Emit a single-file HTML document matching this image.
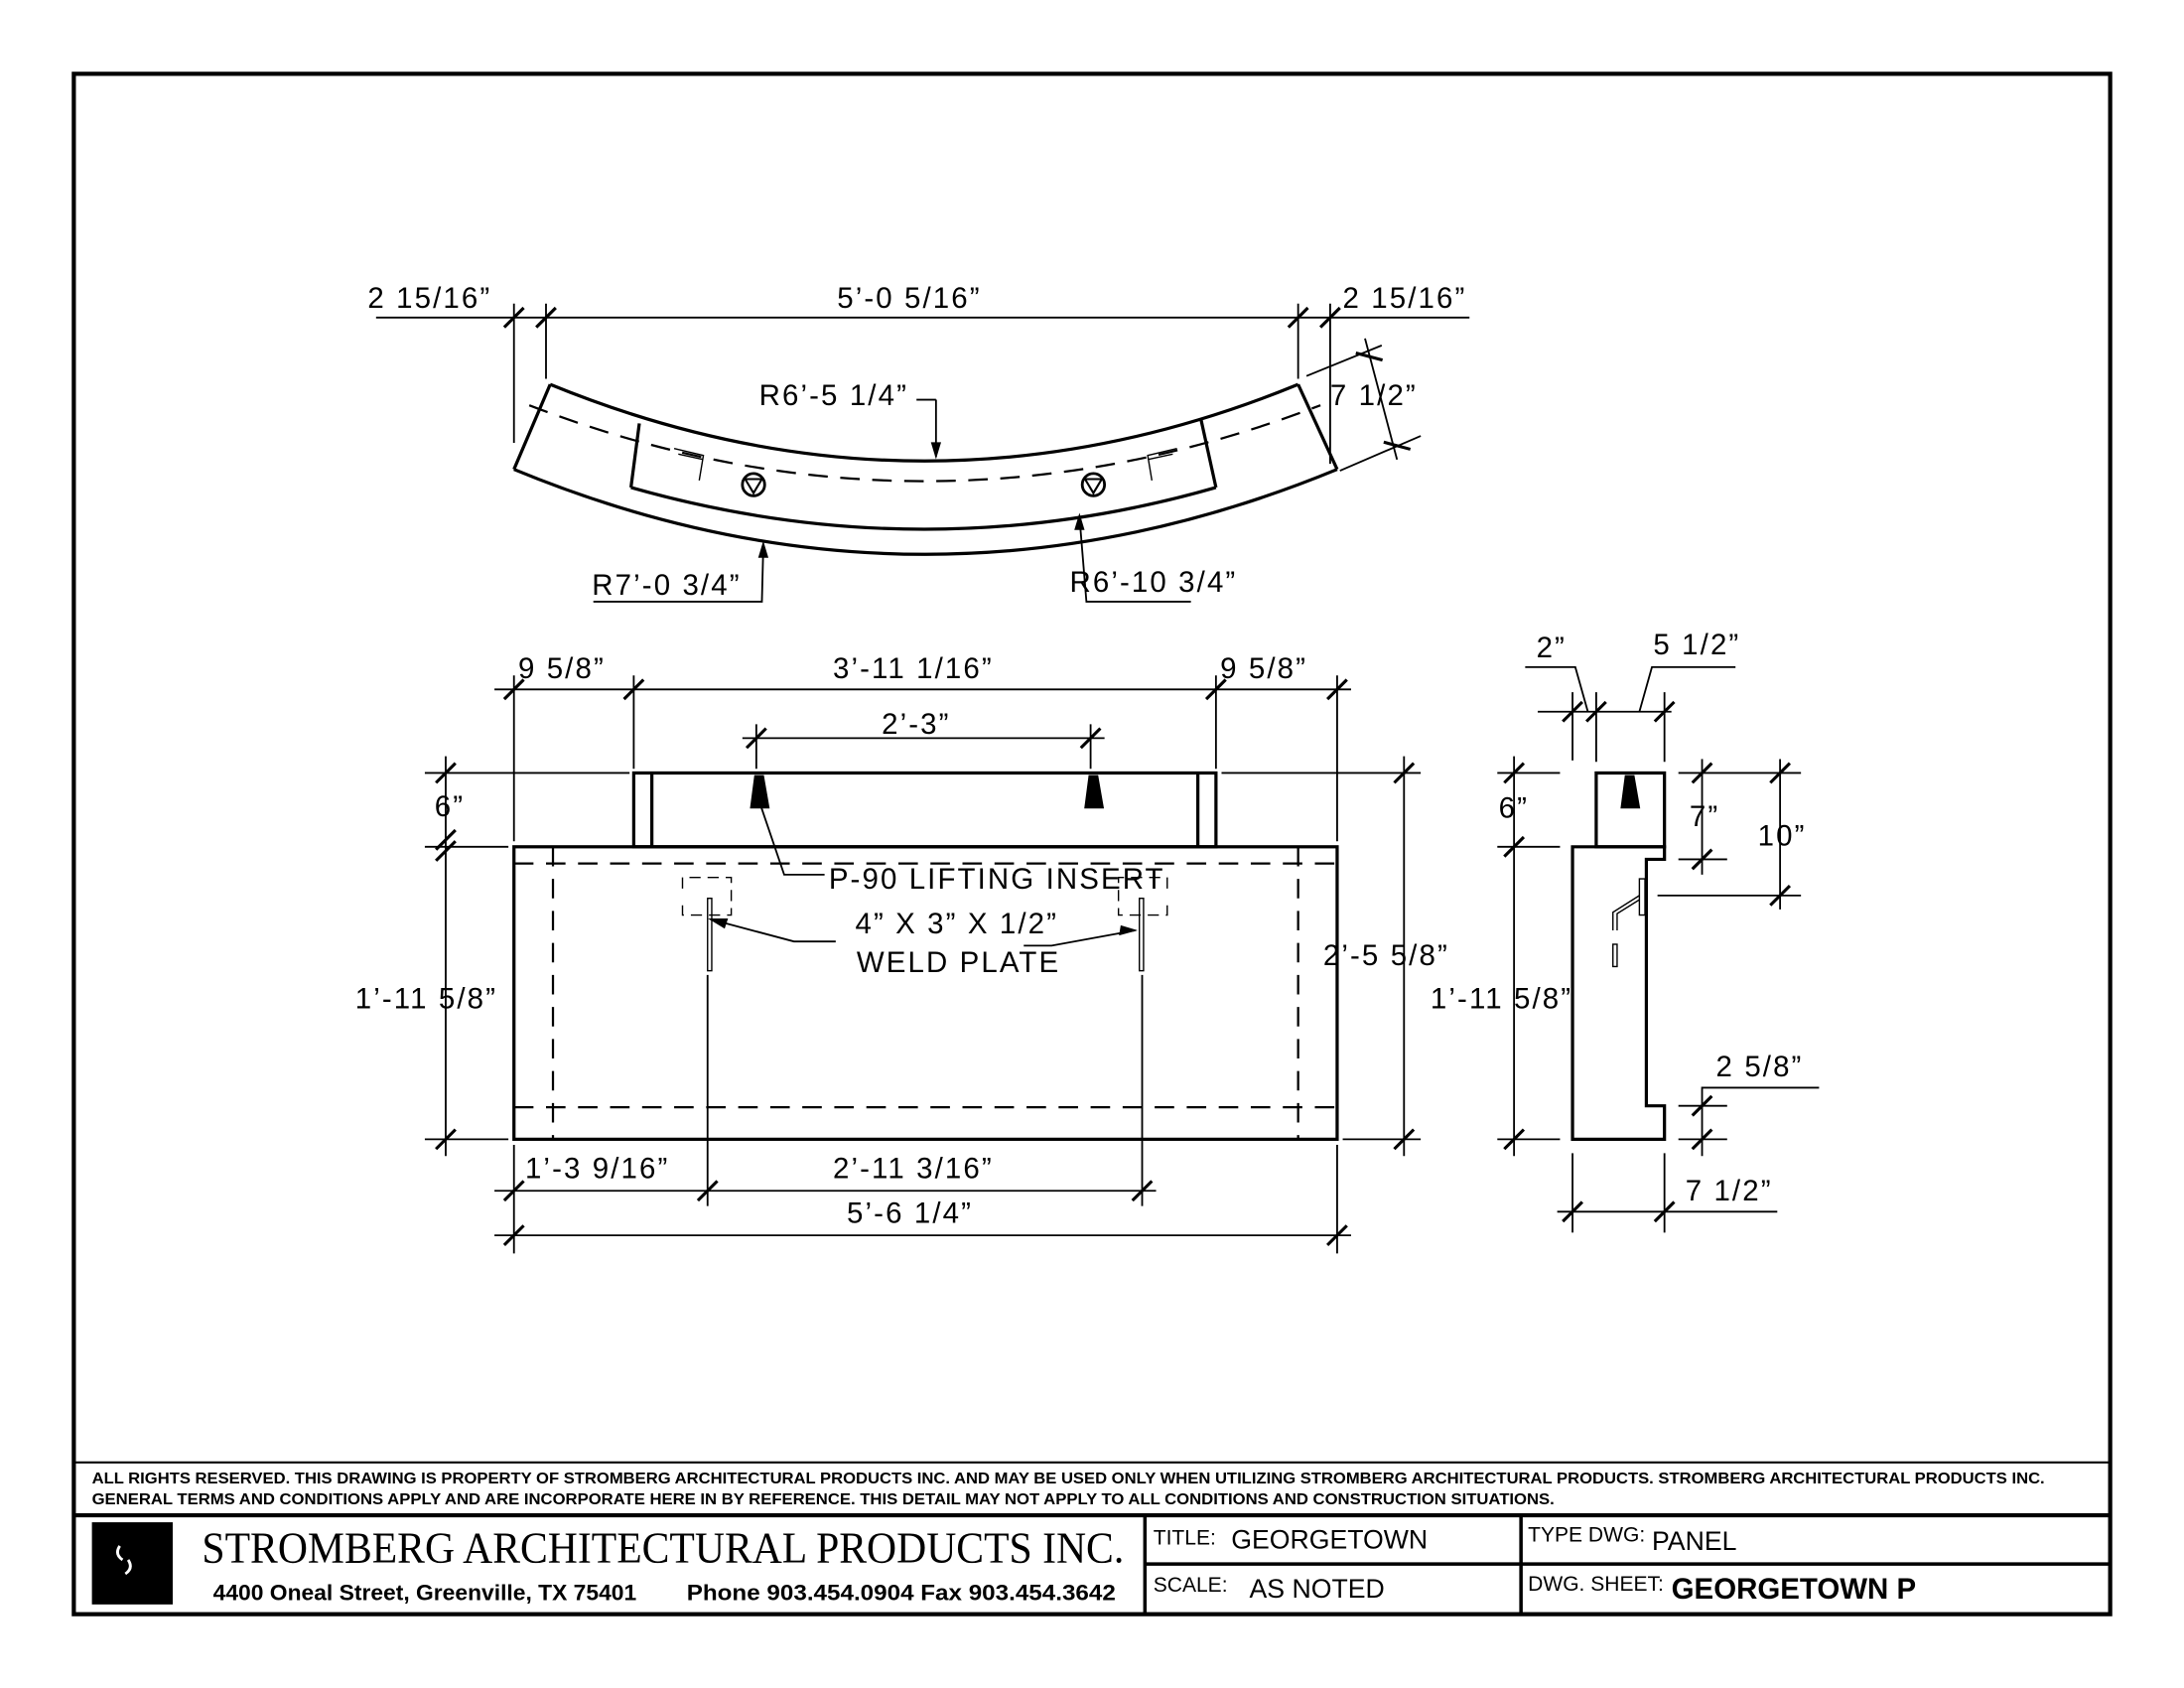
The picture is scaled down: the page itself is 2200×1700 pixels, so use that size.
<!DOCTYPE html>
<html><head><meta charset="utf-8"><style>
html,body{margin:0;padding:0;background:#fff}
svg{display:block}
text{font-family:"Liberation Sans",sans-serif;fill:#000}
.d{font-size:21px;letter-spacing:1.5px}
</style></head><body>
<svg width="2200" height="1700" viewBox="0 0 1568 1212" preserveAspectRatio="none" xmlns="http://www.w3.org/2000/svg">
<defs>
<path id="t" d="M-7,7 L7,-7" stroke="#000" stroke-width="2.2"/>
</defs>
<g fill="none" stroke="#000">
<rect x="53" y="53" width="1462" height="1106" stroke-width="3"/>
<line x1="53" y1="1050" x2="1515" y2="1050" stroke-width="1.5"/>
<line x1="53" y1="1088" x2="1515" y2="1088" stroke-width="3"/>
<line x1="822" y1="1088" x2="822" y2="1159" stroke-width="2.5"/>
<line x1="1092" y1="1088" x2="1092" y2="1159" stroke-width="2.5"/>
<line x1="822" y1="1123" x2="1515" y2="1123" stroke-width="2.5"/>

<g stroke-width="2.3">
<path d="M369,337 Q664,459 960,337"/>
<path d="M395,276 Q664,386 932,276"/>
<line x1="369" y1="337" x2="395" y2="276"/>
<line x1="960" y1="337" x2="932" y2="276"/>
<path d="M453,350 Q664,410 873,350"/>
<line x1="453" y1="350" x2="459" y2="304"/>
<line x1="873" y1="350" x2="862" y2="300"/>
</g>
<path d="M380,291 Q664,400 948,291" stroke-width="1.6" stroke-dasharray="14,9"/>
<circle cx="541" cy="348" r="8" stroke-width="2"/><path d="M535,344 L541,354 L547,344 Z" stroke-width="1.5"/>
<circle cx="785" cy="348" r="8" stroke-width="2"/><path d="M779,344 L785,354 L791,344 Z" stroke-width="1.5"/>
<path d="M484,322 L505,327 L502,345 M487,326 L505,330" stroke-width="1"/>
<path d="M845,322 L824,327 L827,345 M842,326 L824,330" stroke-width="1"/>
<g stroke-width="1.3">
<line x1="270" y1="228" x2="1055" y2="228"/>
<line x1="369" y1="218" x2="369" y2="318"/>
<line x1="392" y1="218" x2="392" y2="272"/>
<line x1="932" y1="218" x2="932" y2="272"/>
<line x1="955" y1="218" x2="955" y2="333"/>
<line x1="938" y1="270" x2="992" y2="248"/>
<line x1="962" y1="338" x2="1020" y2="313"/>
<line x1="980" y1="243" x2="1003" y2="330"/>
<path d="M672,287 L672,328 M658,287 L672,287"/>
<path d="M548,393 L547,432 L426,432" />
<path d="M775,371 L780,432 L855,432" />
</g>
<path d="M669,318 L672,328 L675,318Z" fill="#000" stroke-width="1"/>
<path d="M545,400 L548,390 L551,400Z" fill="#000" stroke-width="1"/>
<path d="M772,380 L775,370 L778,380Z" fill="#000" stroke-width="1"/>
<use href="#t" x="369" y="228"/><use href="#t" x="392" y="228"/><use href="#t" x="932" y="228"/><use href="#t" x="955" y="228"/>
<use href="#t" x="983" y="256" transform="rotate(60 983 256)"/><use href="#t" x="1003" y="320" transform="rotate(60 1003 320)"/>

<g stroke-width="2.3">
<rect x="369" y="608" width="591" height="210"/>
<rect x="455" y="555" width="418" height="53"/>
<line x1="468" y1="555" x2="468" y2="608"/>
<line x1="860" y1="555" x2="860" y2="608"/>
</g>
<g stroke-width="1.6" stroke-dasharray="14,9">
<line x1="369" y1="620" x2="960" y2="620"/>
<line x1="369" y1="795" x2="960" y2="795"/>
<line x1="397" y1="608" x2="397" y2="818"/>
<line x1="932" y1="608" x2="932" y2="818"/>
</g>
<path d="M539,580 L552,580 L548,557 L542,557Z" fill="#000" stroke-width="1"/>
<path d="M779,580 L792,580 L788,557 L782,557Z" fill="#000" stroke-width="1"/>
<g stroke-width="1">
<path d="M490,638 L490,630 L525,630 L525,657 L490,657 L490,645" stroke-dasharray="8,5"/>
<rect x="508" y="645" width="3" height="52"/>
<path d="M838,638 L838,630 L803,630 L803,657 L838,657 L838,645" stroke-dasharray="8,5"/>
<rect x="818" y="645" width="3" height="52"/>
</g>
<g stroke-width="1.3">
<line x1="355" y1="495" x2="970" y2="495"/>
<line x1="369" y1="485" x2="369" y2="604"/>
<line x1="455" y1="485" x2="455" y2="552"/>
<line x1="873" y1="485" x2="873" y2="552"/>
<line x1="960" y1="485" x2="960" y2="604"/>
<line x1="533" y1="530" x2="793" y2="530"/>
<line x1="543" y1="520" x2="543" y2="552"/>
<line x1="783" y1="520" x2="783" y2="552"/>
<line x1="320" y1="543" x2="320" y2="830"/>
<line x1="305" y1="555" x2="452" y2="555"/>
<line x1="305" y1="608" x2="365" y2="608"/>
<line x1="305" y1="818" x2="365" y2="818"/>
<line x1="1008" y1="543" x2="1008" y2="830"/>
<line x1="877" y1="555" x2="1020" y2="555"/>
<line x1="964" y1="818" x2="1020" y2="818"/>
<line x1="355" y1="855" x2="830" y2="855"/>
<line x1="355" y1="887" x2="970" y2="887"/>
<line x1="369" y1="822" x2="369" y2="900"/>
<line x1="960" y1="822" x2="960" y2="900"/>
<line x1="508" y1="700" x2="508" y2="866"/>
<line x1="820" y1="700" x2="820" y2="866"/>
<path d="M546,578 L563,628 L592,628"/>
<path d="M510,660 L570,676 L600,676"/>
<path d="M815,668 L755,679 L735,679"/>
</g>
<path d="M510,660 L522,660 L520,666Z" fill="#000" stroke-width="1"/>
<path d="M815,668 L805,665 L804,671Z" fill="#000" stroke-width="1"/>
<use href="#t" x="369" y="495"/><use href="#t" x="455" y="495"/><use href="#t" x="873" y="495"/><use href="#t" x="960" y="495"/>
<use href="#t" x="543" y="530"/><use href="#t" x="783" y="530"/>
<use href="#t" x="320" y="555"/><use href="#t" x="320" y="603"/><use href="#t" x="320" y="611"/><use href="#t" x="320" y="818"/>
<use href="#t" x="1008" y="555"/><use href="#t" x="1008" y="818"/>
<use href="#t" x="369" y="855"/><use href="#t" x="508" y="855"/><use href="#t" x="820" y="855"/>
<use href="#t" x="369" y="887"/><use href="#t" x="960" y="887"/>

<path d="M1129,608 L1195,608 L1195,617 L1182,617 L1182,794 L1195,794 L1195,818 L1129,818 Z" stroke-width="2.3"/>
<rect x="1146" y="555" width="49" height="53" stroke-width="2.3"/>
<path d="M1164,580 L1177,580 L1173,557 L1167,557Z" fill="#000" stroke-width="1"/>
<g stroke-width="1">
<rect x="1177" y="631" width="4" height="26"/>
<path d="M1177,643 L1158,655 L1158,668 M1177,646 L1161,656 L1161,668"/>
<rect x="1158" y="678" width="3" height="16"/>
</g>
<g stroke-width="1.3">
<line x1="1104" y1="511" x2="1200" y2="511"/>
<line x1="1129" y1="497" x2="1129" y2="546"/>
<line x1="1146" y1="497" x2="1146" y2="547"/>
<line x1="1195" y1="497" x2="1195" y2="547"/>
<path d="M1095,479 L1131,479 L1140,511"/>
<path d="M1177,511 L1186,479 L1246,479"/>
<line x1="1087" y1="543" x2="1087" y2="830"/>
<line x1="1075" y1="555" x2="1120" y2="555"/>
<line x1="1075" y1="608" x2="1120" y2="608"/>
<line x1="1075" y1="818" x2="1120" y2="818"/>
<line x1="1222" y1="545" x2="1222" y2="628"/>
<line x1="1205" y1="555" x2="1293" y2="555"/>
<line x1="1205" y1="617" x2="1240" y2="617"/>
<line x1="1278" y1="545" x2="1278" y2="653"/>
<line x1="1190" y1="643" x2="1293" y2="643"/>
<path d="M1222,830 L1222,781 L1306,781"/>
<line x1="1205" y1="794" x2="1240" y2="794"/>
<line x1="1205" y1="818" x2="1240" y2="818"/>
<line x1="1118" y1="870" x2="1276" y2="870"/>
<line x1="1129" y1="828" x2="1129" y2="885"/>
<line x1="1195" y1="828" x2="1195" y2="885"/>
</g>
<use href="#t" x="1129" y="511"/><use href="#t" x="1146" y="511"/><use href="#t" x="1195" y="511"/>
<use href="#t" x="1087" y="555"/><use href="#t" x="1087" y="608"/><use href="#t" x="1087" y="818"/>
<use href="#t" x="1222" y="555"/><use href="#t" x="1222" y="617"/>
<use href="#t" x="1278" y="555"/><use href="#t" x="1278" y="643"/>
<use href="#t" x="1222" y="794"/><use href="#t" x="1222" y="818"/>
<use href="#t" x="1129" y="870"/><use href="#t" x="1195" y="870"/>
</g>
<rect x="66" y="1093" width="58" height="59" fill="#000"/>
<path d="M86,1110 q-4,6 2,10 M92,1120 q4,6 -2,10" stroke="#fff" stroke-width="2" fill="none"/>

<g class="d">
<text x="264" y="221">2 15/16”</text>
<text x="601" y="221">5’-0 5/16”</text>
<text x="964" y="221">2 15/16”</text>
<text x="545" y="291">R6’-5 1/4”</text>
<text x="955" y="291">7 1/2”</text>
<text x="425" y="427">R7’-0 3/4”</text>
<text x="768" y="425">R6’-10 3/4”</text>
<text x="372" y="487">9 5/8”</text>
<text x="598" y="487">3’-11 1/16”</text>
<text x="876" y="487">9 5/8”</text>
<text x="633" y="527">2’-3”</text>
<text x="312" y="586">6”</text>
<text x="595" y="638">P-90 LIFTING INSERT</text>
<text x="614" y="670">4” X 3” X 1/2”</text>
<text x="615" y="698">WELD PLATE</text>
<text x="255" y="724">1’-11 5/8”</text>
<text x="950" y="693">2’-5 5/8”</text>
<text x="377" y="846">1’-3 9/16”</text>
<text x="598" y="846">2’-11 3/16”</text>
<text x="608" y="878">5’-6 1/4”</text>
<text x="1103" y="472">2”</text>
<text x="1187" y="470">5 1/2”</text>
<text x="1076" y="587">6”</text>
<text x="1213" y="593">7”</text>
<text x="1262" y="607">10”</text>
<text x="1027" y="724">1’-11 5/8”</text>
<text x="1232" y="773">2 5/8”</text>
<text x="1210" y="862">7 1/2”</text>
</g>
<text x="66" y="1065" font-size="11" font-weight="bold" textLength="1402" lengthAdjust="spacingAndGlyphs">ALL RIGHTS RESERVED. THIS DRAWING IS PROPERTY OF STROMBERG ARCHITECTURAL PRODUCTS INC. AND MAY BE USED ONLY WHEN UTILIZING STROMBERG ARCHITECTURAL PRODUCTS.  STROMBERG ARCHITECTURAL PRODUCTS INC.</text>
<text x="66" y="1080" font-size="11" font-weight="bold" textLength="1050" lengthAdjust="spacingAndGlyphs">GENERAL TERMS AND CONDITIONS APPLY AND ARE INCORPORATE HERE IN BY REFERENCE.  THIS DETAIL MAY NOT APPLY TO ALL CONDITIONS AND CONSTRUCTION SITUATIONS.</text>
<text x="145" y="1122" font-size="32" style="font-family:'Liberation Serif',serif" textLength="662" lengthAdjust="spacingAndGlyphs">STROMBERG ARCHITECTURAL PRODUCTS INC.</text>
<text x="153" y="1149" font-size="16" font-weight="bold" textLength="304" lengthAdjust="spacingAndGlyphs">4400 Oneal Street, Greenville, TX  75401</text>
<text x="493" y="1149" font-size="16" font-weight="bold" textLength="308" lengthAdjust="spacingAndGlyphs">Phone 903.454.0904   Fax 903.454.3642</text>
<text x="828" y="1109" font-size="15">TITLE:</text>
<text x="884" y="1112" font-size="19">GEORGETOWN</text>
<text x="1097" y="1107" font-size="15">TYPE DWG:</text>
<text x="1186" y="1113" font-size="19">PANEL</text>
<text x="828" y="1143" font-size="15">SCALE:</text>
<text x="897" y="1147" font-size="19">AS NOTED</text>
<text x="1097" y="1142" font-size="15">DWG. SHEET:</text>
<text x="1200" y="1148" font-size="21" font-weight="bold">GEORGETOWN P</text>
</svg>
</body></html>
